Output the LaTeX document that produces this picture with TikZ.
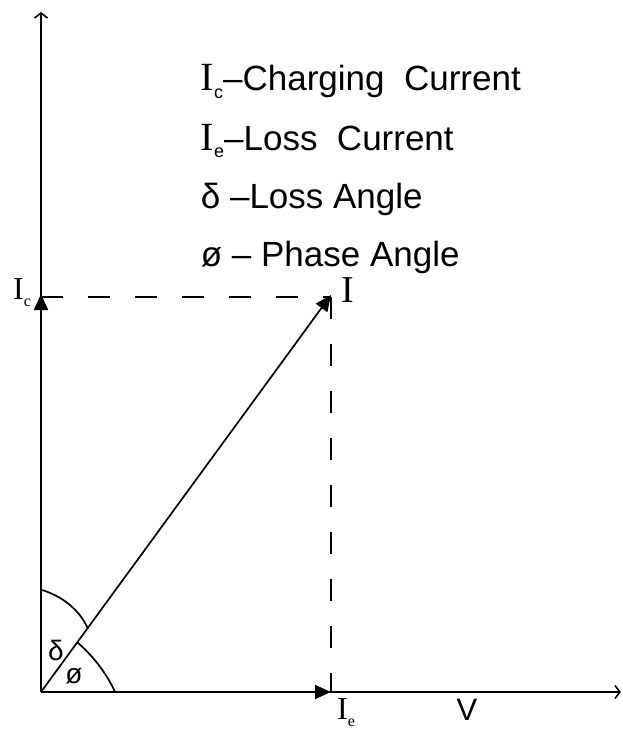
\documentclass[tikz,border=0pt]{standalone}
\usepackage{fontspec}
\setmainfont{Liberation Sans}
\newfontfamily\serifI{Liberation Serif}
\usetikzlibrary{arrows.meta}
\newcommand{\bigI}{{\fontsize{40}{40}\selectfont\serifI I}}
\newcommand{\sbc}[1]{\raisebox{-0.22em}{\fontsize{18}{18}\selectfont #1}}
\newcommand{\sbsmall}[1]{\raisebox{-0.22em}{\fontsize{16}{16}\selectfont #1}}
\begin{document}
\begin{tikzpicture}[x=1pt,y=-1pt,line width=1.7pt,
  axis/.style={-{Straight Barb[length=5pt,width=13pt,line width=1.6pt]}},
  vec/.style={-{Triangle[length=16pt,width=14pt]}},
  dsh/.style={dash pattern=on 22pt off 25pt},
  legend/.style={anchor=base west,inner sep=0pt,font=\fontsize{35}{40}\selectfont},
  lbl/.style={inner sep=0pt,font=\fontsize{28}{30}\selectfont}]
\useasboundingbox (0,0) rectangle (622,733);
\coordinate (O) at (41,692);
\coordinate (Ytop) at (41,12);
\coordinate (Xend) at (621,692);
\coordinate (P) at (331,295);
\coordinate (Ic) at (41,294);
\coordinate (Ie) at (331,692);
\coordinate (Hc) at (41,297);
\coordinate (Hp) at (331,297);
% axes
\draw[axis] (O) -- (Ytop);
\draw[axis] (O) -- (Xend);
% components and resultant
\draw[vec] (O) -- (Ic);
\draw[vec] (O) -- (Ie);
\draw[vec] (O) -- (P);
% dashed projections
\draw[dsh] (Hc) -- (Hp);
\draw[dsh] (Hp) -- (Ie);
% angle arcs
\draw (42,590) .. controls (62,596) and (80,610) .. (88,629);
\draw (77,642) .. controls (92,655) and (106,672) .. (115,692);
% labels
\node[lbl,font=\fontsize{32}{34}\selectfont] (lic) at (22,293) {\serifI I\sbsmall{c}};
\node[lbl,font=\fontsize{38}{40}\selectfont] (li) at (348,290) {\serifI I};
\node[lbl,font=\fontsize{32}{34}\selectfont] (lie) at (346,713) {\serifI I\sbsmall{e}};
\node[lbl,font=\fontsize{31}{34}\selectfont] (lv) at (467,710) {V};
\node[lbl] (ld) at (56,650) {δ};
\node[lbl] (lp) at (74,676) {ø};
% legend
\node[legend] (l1) at (200,91) {\bigI\sbc{c}–Charging\ \ Current};
\node[legend] (l2) at (200,150) {\bigI\sbc{e}–Loss\ \ Current};
\node[legend] (l3) at (200,208) {δ –Loss Angle};
\node[legend] (l4) at (200,266) {ø – Phase Angle};
\end{tikzpicture}
\end{document}
